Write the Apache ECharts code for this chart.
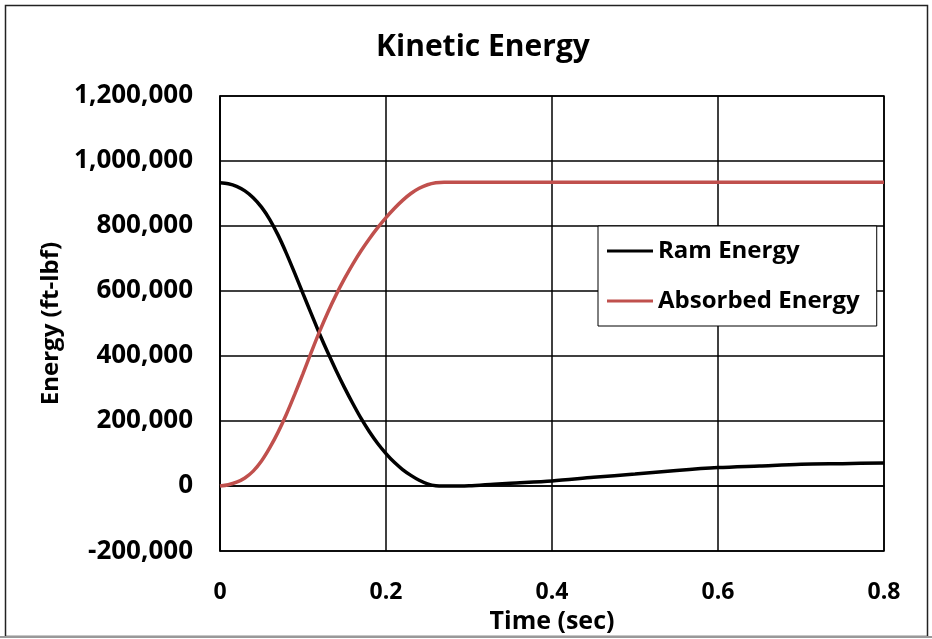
<!DOCTYPE html>
<html>
<head>
<meta charset="utf-8">
<script src="https://cdn.jsdelivr.net/npm/echarts@6/dist/echarts.min.js"></script>
<style>html,body{margin:0;padding:0;background:#fff}#c{width:932px;height:639px}</style>
</head>
<body>
<div id="c"></div>
<script>
const time = [0, 0.01, 0.02, 0.03, 0.04, 0.05, 0.06, 0.07, 0.08, 0.09, 0.10, 0.11, 0.12, 0.13, 0.14, 0.15, 0.16, 0.17, 0.18, 0.19, 0.20, 0.21, 0.22, 0.23, 0.24, 0.25, 0.26, 0.27, 0.30, 0.33, 0.35, 0.40, 0.45, 0.50, 0.55, 0.60, 0.65, 0.70, 0.75, 0.80];
const ramEnergy = [933000, 930000, 922000, 908000, 887000, 858000, 820000, 772000, 716000, 655000, 592000, 530000, 468000, 410000, 355000, 303000, 254000, 208000, 167000, 131000, 100000, 73000, 51000, 33000, 18000, 7000, 1000, 0, 1000, 6000, 9000, 16000, 27000, 37000, 48000, 57000, 62000, 67000, 69000, 71000];
const absorbedEnergy = [0, 4000, 12000, 25000, 46000, 77000, 118000, 166000, 221000, 282000, 346000, 412000, 476000, 535000, 589000, 638000, 683000, 724000, 761000, 795000, 826000, 854000, 879000, 900000, 916000, 927000, 933000, 935000, 935000, 935000, 935000, 935000, 935000, 935000, 935000, 935000, 935000, 935000, 935000, 935000];
const seriesNames = ['Ram Energy', 'Absorbed Energy'];
const xTicks = ['0', '0.2', '0.4', '0.6', '0.8'];

const FONT = 'Open Sans';
const chart = echarts.init(document.getElementById('c'), null, {renderer: 'canvas'});
const pairs = (ys) => time.map((t, i) => [t, ys[i]]);
chart.setOption({
  animation: false,
  backgroundColor: '#fff',
  title: {
    text: 'Kinetic Energy', left: 478, top: 27, textAlign: 'center',
    textStyle: {fontFamily: FONT, fontWeight: 'bold', fontSize: 30, color: '#000'}
  },
  grid: {left: 220, top: 96, width: 664, height: 457, show: true, borderColor: '#000', borderWidth: 1.5},
  legend: {
    left: 598, top: 226, orient: 'vertical',
    data: seriesNames,
    backgroundColor: '#fff', borderColor: '#000', borderWidth: 1,
    padding: [11, 17, 11, 9], itemGap: 22, itemWidth: 46, itemHeight: 3,
    icon: 'rect',
    textStyle: {fontFamily: FONT, fontWeight: 'bold', fontSize: 24, color: '#000', lineHeight: 28}
  },
  xAxis: {
    type: 'value', min: 0, max: 0.8, interval: 0.2,
    name: 'Time (sec)', nameLocation: 'middle', nameGap: 43,
    nameTextStyle: {fontFamily: FONT, fontWeight: 'bold', fontSize: 25, color: '#000'},
    axisLine: {show: true, lineStyle: {color: '#000', width: 1.5}},
    axisTick: {show: false},
    axisLabel: {margin: 30, fontFamily: FONT, fontWeight: 'bold', fontSize: 23, color: '#000',
      formatter: (v) => xTicks[Math.round(v / 0.2)]},
    splitLine: {show: true, lineStyle: {color: '#000', width: 1.5}}
  },
  yAxis: {
    type: 'value', min: -200000, max: 1200000, interval: 200000,
    name: 'Energy (ft-lbf)', nameLocation: 'middle', nameGap: 156,
    nameTextStyle: {fontFamily: FONT, fontWeight: 'bold', fontSize: 24, color: '#000'},
    axisLine: {show: true, lineStyle: {color: '#000', width: 1.5}},
    axisTick: {show: false},
    axisLabel: {margin: 27, fontFamily: FONT, fontWeight: 'bold', fontSize: 26, color: '#000',
      formatter: (v) => v.toLocaleString('en-US')},
    splitLine: {show: true, lineStyle: {color: '#000', width: 1.5}}
  },
  series: [
    {name: seriesNames[0], type: 'line', data: pairs(ramEnergy), smooth: 0.3, showSymbol: false,
      lineStyle: {color: '#000', width: 3.5}, itemStyle: {color: '#000'}},
    {name: seriesNames[1], type: 'line', data: pairs(absorbedEnergy), smooth: 0.3, showSymbol: false,
      lineStyle: {color: '#c0504d', width: 3.5}, itemStyle: {color: '#c0504d'}}
  ],
  graphic: [
    {type: 'rect', shape: {x: 5.5, y: 5.5, width: 922, height: 631}, style: {fill: null, stroke: '#222', lineWidth: 1.5}, silent: true},
    {type: 'line', shape: {x1: 0, y1: 637, x2: 932, y2: 637}, style: {stroke: '#999', lineWidth: 2}, silent: true}
  ]
});
</script>
</body>
</html>
